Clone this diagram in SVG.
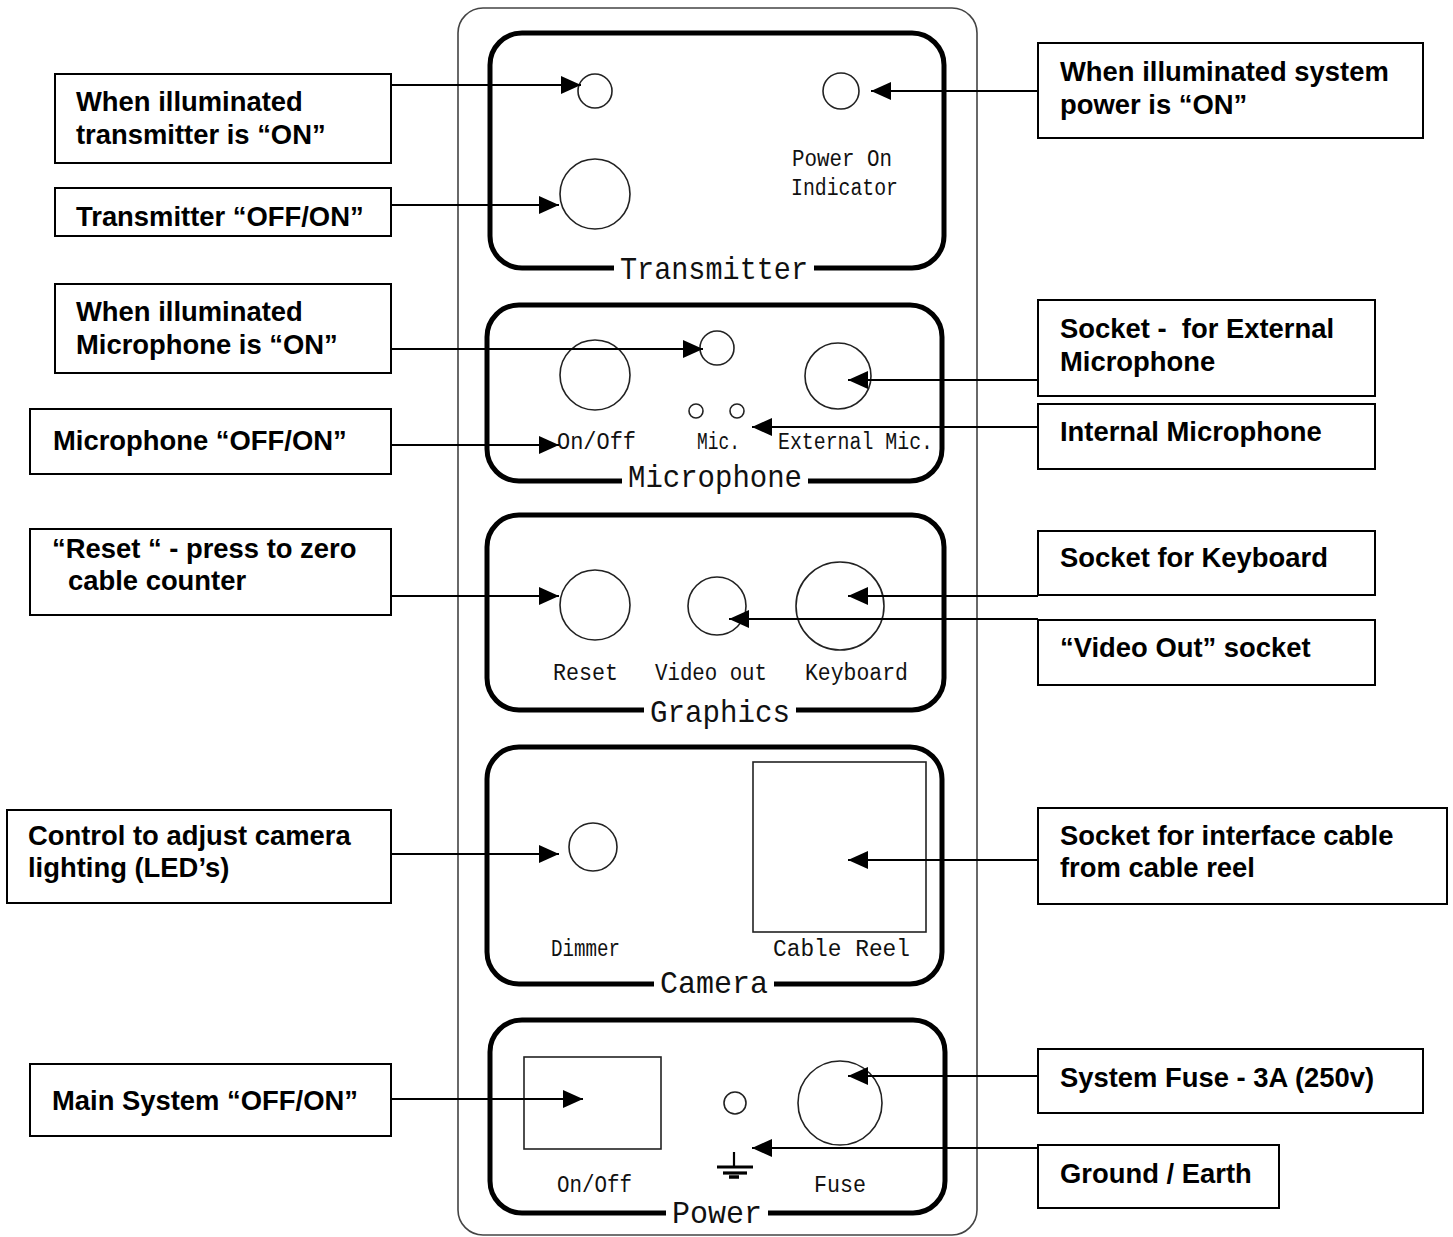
<svg xmlns="http://www.w3.org/2000/svg" width="1453" height="1237" viewBox="0 0 1453 1237">
<style>
.box{fill:#fff;stroke:#000;stroke-width:2}
.lbl{font-family:"Liberation Sans",Arial,sans-serif;font-weight:bold;font-size:27.4px;fill:#000;white-space:pre}
.panel{fill:none;stroke:#000;stroke-width:5}
.title{font-family:"Liberation Mono","DejaVu Sans Mono",monospace;font-size:32px;fill:#111}
.small{font-family:"Liberation Mono","DejaVu Sans Mono",monospace;font-size:23px;fill:#111}
.hole{fill:none;stroke:#222;stroke-width:1.6}
.con{stroke:#000;stroke-width:2;fill:none;marker-end:url(#ah)}
.gap{fill:#fff}
</style>
<defs>
<marker id="ah" markerWidth="20" markerHeight="18" refX="20" refY="9" orient="auto" markerUnits="userSpaceOnUse"><path d="M0,0 L20,9 L0,18 z" fill="#000"/></marker>
</defs>
<rect width="1453" height="1237" fill="#fff"/>

<g id="outer-panel">
<rect x="458" y="8" width="519" height="1227" rx="25" fill="none" stroke="#444" stroke-width="1.6"/>
</g>

<g id="transmitter-panel">
<rect class="panel" x="490" y="33" width="454" height="235" rx="32"/>
<rect class="gap" x="614" y="255" width="200" height="28"/>
<text class="title" x="620" y="279" textLength="188" lengthAdjust="spacingAndGlyphs">Transmitter</text>
<circle class="hole" cx="595" cy="91" r="17"/>
<circle class="hole" cx="595" cy="194" r="35"/>
<circle class="hole" cx="841" cy="91" r="18"/>
<text class="small" x="792" y="166" textLength="100" lengthAdjust="spacingAndGlyphs">Power On</text>
<text class="small" x="791" y="195" textLength="107" lengthAdjust="spacingAndGlyphs">Indicator</text>
</g>

<g id="microphone-panel">
<rect class="panel" x="487" y="305" width="455" height="176" rx="32"/>
<rect class="gap" x="622" y="463" width="186" height="28"/>
<text class="title" x="628" y="487" textLength="174" lengthAdjust="spacingAndGlyphs">Microphone</text>
<circle class="hole" cx="595" cy="375" r="35"/>
<circle class="hole" cx="717" cy="348" r="17"/>
<circle class="hole" cx="838" cy="376" r="33"/>
<circle class="hole" cx="696" cy="411" r="7"/>
<circle class="hole" cx="737" cy="411" r="7"/>
<text class="small" x="557" y="449" textLength="79" lengthAdjust="spacingAndGlyphs">On/Off</text>
<text class="small" x="697" y="449" textLength="43" lengthAdjust="spacingAndGlyphs">Mic.</text>
<text class="small" x="778" y="449" textLength="155" lengthAdjust="spacingAndGlyphs">External Mic.</text>
</g>

<g id="graphics-panel">
<rect class="panel" x="487" y="515" width="457" height="195" rx="32"/>
<rect class="gap" x="644" y="698" width="152" height="28"/>
<text class="title" x="650" y="722" textLength="140" lengthAdjust="spacingAndGlyphs">Graphics</text>
<circle class="hole" cx="595" cy="605" r="35"/>
<circle class="hole" cx="717" cy="606" r="29"/>
<circle class="hole" cx="840" cy="606" r="44"/>
<text class="small" x="553" y="680" textLength="65" lengthAdjust="spacingAndGlyphs">Reset</text>
<text class="small" x="655" y="680" textLength="112" lengthAdjust="spacingAndGlyphs">Video out</text>
<text class="small" x="805" y="680" textLength="103" lengthAdjust="spacingAndGlyphs">Keyboard</text>
</g>

<g id="camera-panel">
<rect class="panel" x="487" y="747" width="455" height="237" rx="32"/>
<rect class="gap" x="654" y="968" width="120" height="28"/>
<text class="title" x="660" y="993" textLength="108" lengthAdjust="spacingAndGlyphs">Camera</text>
<circle class="hole" cx="593" cy="847" r="24"/>
<rect x="753" y="762" width="173" height="170" fill="none" stroke="#222" stroke-width="1.6"/>
<text class="small" x="551" y="956" textLength="69" lengthAdjust="spacingAndGlyphs">Dimmer</text>
<text class="small" x="773" y="956" textLength="137" lengthAdjust="spacingAndGlyphs">Cable Reel</text>
</g>

<g id="power-panel">
<rect class="panel" x="490" y="1020" width="455" height="193" rx="32"/>
<rect class="gap" x="666" y="1198" width="102" height="28"/>
<text class="title" x="672" y="1223" textLength="90" lengthAdjust="spacingAndGlyphs">Power</text>
<rect x="524" y="1057" width="137" height="92" fill="none" stroke="#222" stroke-width="1.6"/>
<circle class="hole" cx="735" cy="1103" r="11"/>
<circle class="hole" cx="840" cy="1103" r="42"/>
<g stroke="#000" fill="none">
<line x1="734" y1="1152" x2="734" y2="1166" stroke-width="2.2"/>
<line x1="717" y1="1167" x2="753" y2="1167" stroke-width="3.2"/>
<line x1="723" y1="1173" x2="747" y2="1173" stroke-width="3.2"/>
<line x1="729" y1="1177" x2="739" y2="1177" stroke-width="3.5"/>
</g>
<text class="small" x="557" y="1192" textLength="75" lengthAdjust="spacingAndGlyphs">On/Off</text>
<text class="small" x="814" y="1192" textLength="52" lengthAdjust="spacingAndGlyphs">Fuse</text>
</g>

<g id="connectors">
<line class="con" x1="391" y1="85" x2="581" y2="85"/>
<line class="con" x1="391" y1="205" x2="559" y2="205"/>
<line class="con" x1="391" y1="349" x2="703" y2="349"/>
<line class="con" x1="391" y1="445" x2="559" y2="445"/>
<line class="con" x1="391" y1="596" x2="559" y2="596"/>
<line class="con" x1="391" y1="854" x2="559" y2="854"/>
<line class="con" x1="391" y1="1099" x2="583" y2="1099"/>
<line class="con" x1="1038" y1="91" x2="871" y2="91"/>
<line class="con" x1="1038" y1="380" x2="848" y2="380"/>
<line class="con" x1="1038" y1="427" x2="752" y2="427"/>
<line class="con" x1="1038" y1="596" x2="848" y2="596"/>
<line class="con" x1="1038" y1="619" x2="729" y2="619"/>
<line class="con" x1="1038" y1="860" x2="848" y2="860"/>
<line class="con" x1="1038" y1="1076" x2="848" y2="1076"/>
<line class="con" x1="1038" y1="1148" x2="752" y2="1148"/>
</g>

<g id="label-tx-led">
<rect class="box" x="55" y="74" width="336" height="89"/>
<text class="lbl" x="76" y="111">When illuminated</text>
<text class="lbl" x="76" y="144">transmitter is “ON”</text>
</g>
<g id="label-tx-switch">
<rect class="box" x="55" y="188" width="336" height="48"/>
<text class="lbl" x="76" y="226">Transmitter “OFF/ON”</text>
</g>
<g id="label-mic-led">
<rect class="box" x="55" y="284" width="336" height="89"/>
<text class="lbl" x="76" y="321">When illuminated</text>
<text class="lbl" x="76" y="354">Microphone is “ON”</text>
</g>
<g id="label-mic-switch">
<rect class="box" x="30" y="409" width="361" height="65"/>
<text class="lbl" x="53" y="450">Microphone “OFF/ON”</text>
</g>
<g id="label-reset">
<rect class="box" x="30" y="529" width="361" height="86"/>
<text class="lbl" x="52" y="558">“Reset “ - press to zero</text>
<text class="lbl" x="68" y="590">cable counter</text>
</g>
<g id="label-dimmer">
<rect class="box" x="7" y="810" width="384" height="93"/>
<text class="lbl" x="28" y="845">Control to adjust camera</text>
<text class="lbl" x="28" y="877">lighting (LED’s)</text>
</g>
<g id="label-main-switch">
<rect class="box" x="30" y="1064" width="361" height="72"/>
<text class="lbl" x="52" y="1110">Main System “OFF/ON”</text>
</g>

<g id="label-power-led">
<rect class="box" x="1038" y="43" width="385" height="95"/>
<text class="lbl" x="1060" y="81">When illuminated system</text>
<text class="lbl" x="1060" y="114">power is “ON”</text>
</g>
<g id="label-ext-mic">
<rect class="box" x="1038" y="300" width="337" height="96"/>
<text class="lbl" x="1060" y="338">Socket -  for External</text>
<text class="lbl" x="1060" y="371">Microphone</text>
</g>
<g id="label-int-mic">
<rect class="box" x="1038" y="404" width="337" height="65"/>
<text class="lbl" x="1060" y="441">Internal Microphone</text>
</g>
<g id="label-keyboard">
<rect class="box" x="1038" y="531" width="337" height="64"/>
<text class="lbl" x="1060" y="567">Socket for Keyboard</text>
</g>
<g id="label-video">
<rect class="box" x="1038" y="620" width="337" height="65"/>
<text class="lbl" x="1060" y="657">“Video Out” socket</text>
</g>
<g id="label-cable">
<rect class="box" x="1038" y="808" width="409" height="96"/>
<text class="lbl" x="1060" y="845">Socket for interface cable</text>
<text class="lbl" x="1060" y="877">from cable reel</text>
</g>
<g id="label-fuse">
<rect class="box" x="1038" y="1049" width="385" height="64"/>
<text class="lbl" x="1060" y="1087">System Fuse - 3A (250v)</text>
</g>
<g id="label-ground">
<rect class="box" x="1038" y="1145" width="241" height="63"/>
<text class="lbl" x="1060" y="1183">Ground / Earth</text>
</g>
</svg>
